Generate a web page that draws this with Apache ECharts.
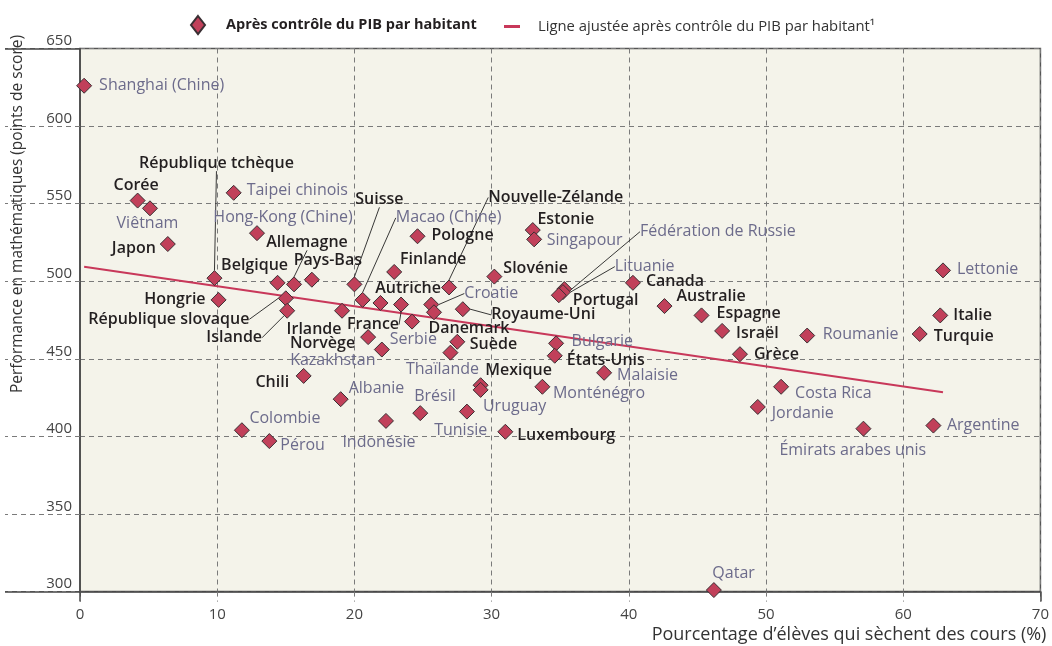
<!DOCTYPE html>
<html>
<head>
<meta charset="utf-8">
<script src="https://cdn.jsdelivr.net/npm/echarts@6/dist/echarts.min.js"></script>
<style>
  html, body { margin: 0; padding: 0; background: #fff; }
  #chart { width: 1052px; height: 646px; }
</style>
</head>
<body>
<div id="chart"></div>
<script>
// pays / économies
const countries = [
  'Shanghai (Chine)', 'Corée', 'Viêtnam', 'Taipei chinois', 'Hong-Kong (Chine)', 'Japon',
  'République tchèque', 'Belgique', 'Allemagne', 'Pays-Bas', 'Hongrie', 'République slovaque',
  'Islande', 'Irlande', 'Norvège', 'Kazakhstan', 'Chili', 'Albanie', 'Colombie', 'Pérou',
  'Indonésie', 'Suisse', 'Macao (Chine)', 'Pologne', 'Finlande', 'Autriche', 'France',
  'Serbie', 'Croatie', 'Danemark', 'Royaume-Uni', 'Nouvelle-Zélande', 'Estonie', 'Singapour',
  'Slovénie', 'Fédération de Russie', 'Lituanie', 'Portugal', 'Canada', 'Australie', 'Espagne',
  'Israël', 'Grèce', 'Roumanie', 'Lettonie', 'Italie', 'Turquie', 'Suède', 'Thaïlande',
  'Mexique', 'Uruguay', 'Monténégro', 'Bulgarie', 'États-Unis', 'Malaisie', 'Brésil',
  'Tunisie', 'Luxembourg', 'Costa Rica', 'Jordanie', 'Émirats arabes unis', 'Argentine', 'Qatar'
]
// % d'élèves qui sèchent des cours
const skipPct = [
  0.3, 4.2, 5.1, 11.2, 12.9, 6.4,
  9.8, 14.4, 15.6, 16.9, 10.1, 15.0,
  15.1, 19.1, 21.0, 22.0, 16.3, 19.0, 11.8, 13.8,
  22.3, 20.0, 20.6, 24.6, 22.9, 21.9, 23.4,
  24.2, 25.6, 25.8, 27.9, 26.9, 33.0, 33.1,
  30.2, 35.3, 35.2, 34.9, 40.3, 42.6, 45.3,
  46.8, 48.1, 53.0, 62.9, 62.7, 61.2, 27.5, 27.0,
  29.2, 29.2, 33.7, 34.7, 34.6, 38.2, 24.8,
  28.2, 31.0, 51.1, 49.4, 57.1, 62.2, 46.2
]
// performance en mathématiques après contrôle du PIB par habitant
const mathScore = [
  626, 552, 547, 557, 531, 524,
  502, 499, 498, 501, 488, 489,
  481, 481, 464, 456, 439, 424, 404, 397,
  410, 498, 488, 529, 506, 486, 485,
  474, 485, 480, 482, 496, 533, 527,
  503, 495, 493, 491, 499, 484, 478,
  468, 453, 465, 507, 478, 466, 461, 454,
  433, 430, 432, 460, 452, 441, 415,
  416, 403, 432, 419, 405, 407, 301
]
// 1 = pays de l'OCDE
const oecd = [
  0, 1, 0, 0, 0, 1,
  1, 1, 1, 1, 1, 1,
  1, 1, 1, 0, 1, 0, 0, 0,
  0, 1, 0, 1, 1, 1, 1,
  0, 0, 1, 1, 1, 1, 0,
  1, 0, 0, 1, 1, 1, 1,
  1, 1, 0, 0, 1, 1, 1, 0,
  1, 0, 0, 0, 1, 0, 0,
  0, 1, 0, 0, 0, 0, 0
]
// droite ajustée
const fitX = [0.3, 62.9]
const fitY = [509.4, 428.5]

const nameScatter = 'Après contrôle du PIB par habitant'
const nameFit = 'Ligne ajustée après contrôle du PIB par habitant¹'

// placement des étiquettes : [position, dx, dy] ; 'lead' = étiquette déplacée avec trait
const place = {
  'Shanghai (Chine)': ['right', 3, 0],
  'Corée': ['inside', -1.5, -15],
  'Viêtnam': ['inside', -2.5, 15.6],
  'Taipei chinois': ['right', 1, -2],
  'Hong-Kong (Chine)': ['inside', 26, -16],
  'Japon': ['left', 0, 4],
  'République tchèque': ['lead', 2, -115],
  'Belgique': ['inside', -23, -17],
  'Allemagne': ['lead', 13, -42],
  'Pays-Bas': ['inside', 16, -19],
  'Hongrie': ['left', -1, 0],
  'République slovaque': ['lead', -117, 21],
  'Islande': ['lead', -53, 27],
  'Irlande': ['inside', -28, 19],
  'Norvège': ['left', -1, 6.6],
  'Kazakhstan': ['inside', -49, 11],
  'Chili': ['left', -2.5, 6.7],
  'Albanie': ['right', -4, -11],
  'Colombie': ['right', -4.5, -12],
  'Pérou': ['right', -1, 4.3],
  'Indonésie': ['inside', -7, 21.7],
  'Suisse': ['lead', 25, -85],
  'Macao (Chine)': ['lead', 86, -82],
  'Pologne': ['right', 2, -0.7],
  'Finlande': ['inside', 39, -12.4],
  'Autriche': ['inside', 27.6, -14.4],
  'France': ['lead', -28, 20],
  'Serbie': ['inside', 1.3, 18.3],
  'Croatie': ['lead', 60, -11],
  'Danemark': ['inside', 35, 16],
  'Royaume-Uni': ['lead', 80.5, 5.7],
  'Nouvelle-Zélande': ['lead', 106.7, -90],
  'Estonie': ['inside', 33, -11],
  'Singapour': ['right', 0.5, 1.4],
  'Slovénie': ['right', -3, -8.4],
  'Fédération de Russie': ['lead', 153.5, -57.3],
  'Lituanie': ['lead', 81.7, -25.5],
  'Portugal': ['right', 2, 5],
  'Canada': ['right', 1, -1],
  'Australie': ['right', 0, -9.3],
  'Espagne': ['right', 3, -2.3],
  'Israël': ['right', 2, 2.3],
  'Grèce': ['right', 2, 0],
  'Roumanie': ['right', 3.5, -0.7],
  'Lettonie': ['right', 2, -1],
  'Italie': ['right', 1, 0],
  'Turquie': ['right', 2, 2.7],
  'Suède': ['right', 0.5, 2.7],
  'Thaïlande': ['inside', -8, 16.6],
  'Mexique': ['inside', 38, -14.3],
  'Uruguay': ['inside', 34, 16.5],
  'Monténégro': ['right', -1.5, 6.7],
  'Bulgarie': ['right', 3.5, -1.6],
  'États-Unis': ['right', 0, 4.3],
  'Malaisie': ['right', 1, 2.7],
  'Brésil': ['inside', 14.7, -16.6],
  'Tunisie': ['inside', -6.2, 19],
  'Luxembourg': ['right', 0, 3.3],
  'Costa Rica': ['right', 2, 6.6],
  'Jordanie': ['right', 2, 6.7],
  'Émirats arabes unis': ['inside', -10.6, 22],
  'Argentine': ['right', 1.5, 0],
  'Qatar': ['inside', 19.7, -16.7]
}

const FONT = '"Open Sans"'
const DARK = '#231f20'
const GREY = '#6c6b8b'
const GRID_LINE = { color: '#7a7a7a', width: 1, type: [5, 4] }

const points = countries.map((name, i) => {
  const p = place[name] || ['right', 0, 0]
  const lead = p[0] === 'lead'
  return {
    name,
    value: [skipPct[i], mathScore[i]],
    label: {
      position: lead ? 'inside' : p[0],
      color: oecd[i] ? DARK : GREY,
      fontWeight: oecd[i] ? 600 : 'normal'
    },
    labelLine: { show: lead }
  }
})

const fitData = fitX.map((x, i) => [x, fitY[i]])

const chart = echarts.init(document.getElementById('chart'))

chart.setOption({
  animation: false,
  textStyle: { fontFamily: FONT },
  legend: [
    {
      data: [{ name: nameScatter, icon: 'diamond' }],
      left: 185, top: 10,
      itemWidth: 14, itemHeight: 18,
      textStyle: { fontFamily: FONT, fontSize: 14.5, fontWeight: 'bold', color: DARK, padding: [0, 0, 0, 16] }
    },
    {
      data: [{ name: nameFit, icon: 'rect' }],
      left: 499, top: 14,
      itemWidth: 16, itemHeight: 3,
      textStyle: { fontFamily: FONT, fontSize: 14.8, color: '#333', padding: [0, 0, 0, 13] }
    }
  ],
  grid: {
    left: 80, right: 10.3, top: 48.5, bottom: 54.4,
    show: true,
    backgroundColor: '#f4f3ea',
    borderColor: '#555',
    borderWidth: 1.5
  },
  xAxis: [
    {
      type: 'value', min: 0, max: 70, interval: 10,
      name: 'Pourcentage d’élèves qui sèchent des cours (%)',
      nameLocation: 'end', nameGap: 6,
      nameTextStyle: { align: 'right', verticalAlign: 'top', padding: [34, 0, 0, 0], fontSize: 18, color: '#333', fontFamily: FONT },
      axisLine: { show: true, onZero: false, lineStyle: { color: '#444', width: 1.5 } },
      axisTick: { show: true, length: 10, lineStyle: GRID_LINE },
      axisLabel: { margin: 16, fontSize: 15, color: '#444', fontFamily: FONT },
      splitLine: { show: true, lineStyle: GRID_LINE }
    },
    {
      type: 'value', min: 0, max: 70, interval: 70, position: 'bottom',
      axisLine: { show: false },
      axisTick: { show: true, length: 10, lineStyle: { color: '#444', width: 1.5 } },
      axisLabel: { show: false },
      splitLine: { show: false }
    }
  ],
  yAxis: [
    {
      type: 'value', min: 300, max: 650, interval: 50,
      axisLine: { show: true, onZero: false, lineStyle: { color: '#444', width: 1.5 } },
      axisTick: { show: true, length: 75, lineStyle: GRID_LINE },
      axisLabel: { margin: 8, verticalAlign: 'bottom', fontSize: 15, color: '#444', fontFamily: FONT },
      splitLine: { show: true, lineStyle: GRID_LINE }
    },
    {
      type: 'value', min: 300, max: 650, interval: 350, position: 'left',
      axisLine: { show: false },
      axisTick: { show: true, length: 75, lineStyle: { color: '#444', width: 1.5 } },
      axisLabel: { show: false },
      splitLine: { show: false }
    }
  ],
  graphic: [
    {
      type: 'text',
      x: 18, y: 214,
      rotation: Math.PI / 2,
      style: {
        text: 'Performance en mathématiques (points de score)',
        font: '15.5px "Open Sans"',
        fill: '#333',
        textAlign: 'center',
        textVerticalAlign: 'middle'
      }
    }
  ],
  series: [
    {
      name: nameFit,
      type: 'line',
      data: fitData,
      symbol: 'none',
      z: 1,
      lineStyle: { color: '#c8385a', width: 2 },
      itemStyle: { color: '#c8385a' }
    },
    {
      name: nameScatter,
      type: 'scatter',
      data: points,
      symbol: 'diamond',
      symbolSize: 15,
      clip: false,
      z: 3,
      itemStyle: { color: '#c1405a', borderColor: '#3a2f33', borderWidth: 1, opacity: 1 },
      label: {
        show: true,
        formatter: '{b}',
        distance: 4,
        fontSize: 16,
        fontFamily: FONT
      },
      labelLine: {
        show: false,
        lineStyle: { color: '#222', width: 0.9 }
      },
      labelLayout: function (params) {
        const p = place[countries[params.dataIndex]] || ['right', 0, 0]
        return { dx: p[1], dy: p[2] }
      }
    }
  ]
})
</script>
</body>
</html>
